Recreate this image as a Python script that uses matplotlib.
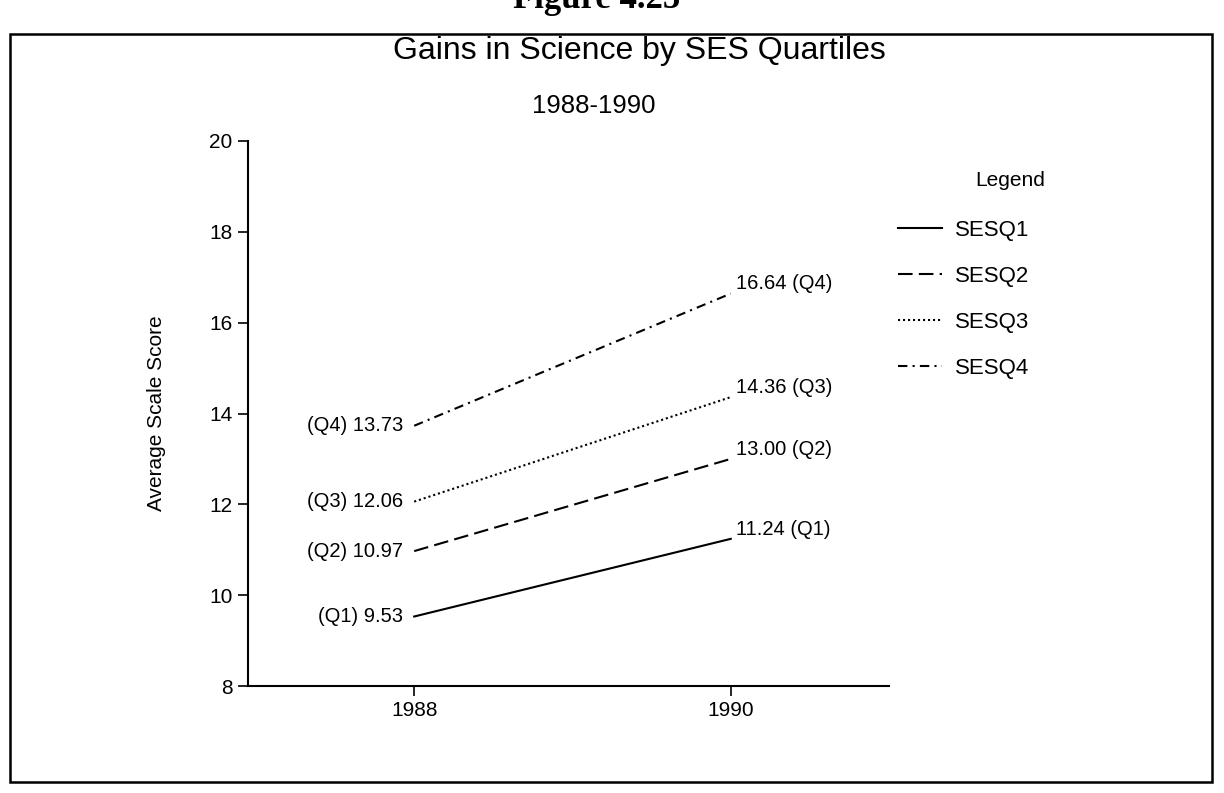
import matplotlib
matplotlib.use("Agg")
import matplotlib.pyplot as plt
from matplotlib.lines import Line2D
from matplotlib.patches import Rectangle

# ---- data ----
years = [1988, 1990]
series_names = ["SESQ1", "SESQ2", "SESQ3", "SESQ4"]
quartile_tags = ["(Q1)", "(Q2)", "(Q3)", "(Q4)"]
q1 = [9.53, 11.24]
q2 = [10.97, 13.00]
q3 = [12.06, 14.36]
q4 = [13.73, 16.64]
values = [q1, q2, q3, q4]
y_ticks = [8, 10, 12, 14, 16, 18, 20]
x_tick_labels = ["1988", "1990"]

title = "Gains in Science by SES Quartiles"
subtitle = "1988-1990"
ylabel = "Average Scale Score"
figure_caption = "Figure 4.25"

styles = ["-", (0, (7, 3)), (0, (1, 1.4)), (0, (4.5, 2.5, 1, 2.5))]

plt.rcParams['font.family'] = ['Liberation Sans', 'DejaVu Sans']

W, H = 1224, 793
fig = plt.figure(figsize=(W / 100, H / 100), dpi=100)

def fx(px):
    return px / W

def fy(py):
    return 1 - py / H

ax = fig.add_axes([fx(248), fy(686), fx(889) - fx(248), fy(141) - fy(686)])

for vals, ls in zip(values, styles):
    ax.plot(years, vals, color="black", linestyle=ls, linewidth=1.5)

for vals, tag in zip(values, quartile_tags):
    ax.annotate(f"{tag} {vals[0]:.2f}", xy=(years[0], vals[0]), xytext=(-8, 0),
                textcoords="offset points", ha="right", va="center", fontsize=14.5)
    ax.annotate(f"{vals[1]:.2f} {tag}", xy=(years[1], vals[1]), xytext=(4, 7),
                textcoords="offset points", ha="left", va="center", fontsize=14.5)

ax.set_xlim(1986.95, 1991.0)
ax.set_ylim(8, 20)
ax.set_yticks(y_ticks)
ax.set_xticks(years)
ax.set_xticklabels(x_tick_labels)
ax.tick_params(axis="both", direction="out", length=7, width=1.2, labelsize=15,
               colors="black", pad=4)
for side in ["top", "right"]:
    ax.spines[side].set_visible(False)
for side in ["left", "bottom"]:
    ax.spines[side].set_linewidth(1.5)
ax.set_ylabel(ylabel, fontsize=15, labelpad=31)
ax.patch.set_visible(False)

# titles
fig.text(fx(639), fy(51), title, ha="center", va="center", fontsize=23)
fig.text(fx(594), fy(106), subtitle, ha="center", va="center", fontsize=18.5)
fig.text(fx(597), fy(-1), figure_caption, ha="center", va="center", fontsize=25,
         family=["Liberation Serif", "DejaVu Serif"], fontweight="bold")

# border frame
fig.patches.append(Rectangle((fx(10), fy(782)), fx(1212) - fx(10), fy(34) - fy(782),
                             transform=fig.transFigure, fill=False,
                             edgecolor="black", linewidth=1.8))

# legend
handles = [Line2D([0], [0], color="black", linestyle=ls, linewidth=1.5) for ls in styles]
fig.text(fx(1010), fy(181), "Legend", ha="center", va="center", fontsize=15)
fig.legend(handles, series_names, loc="upper left",
           bbox_to_anchor=(fx(898), fy(220)), frameon=False, fontsize=16,
           handlelength=2.0, handletextpad=0.55, labelspacing=1.12,
           borderpad=0, borderaxespad=0)

fig.savefig("out.png", dpi=100)
